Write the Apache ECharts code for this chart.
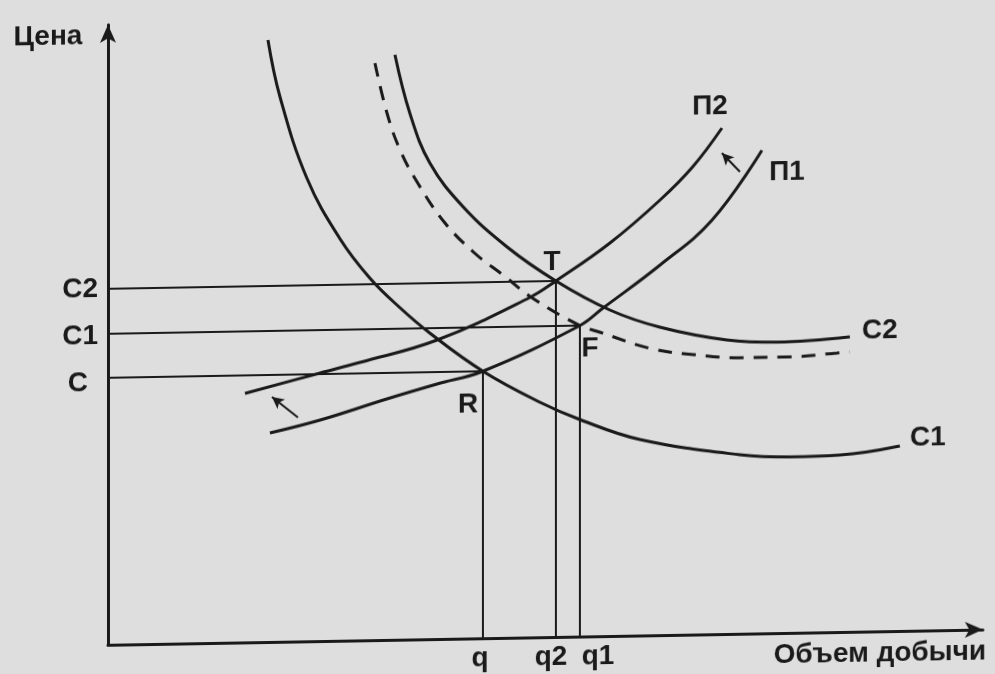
<!DOCTYPE html>
<html>
<head>
<meta charset="utf-8">
<title>Цена и объем добычи</title>
<script src="https://cdn.jsdelivr.net/npm/echarts@6/dist/echarts.min.js"></script>
<style>
  html, body { margin: 0; padding: 0; background: #dedede; overflow: hidden; }
  /* the scanned figure is slightly sheared: its right side sits higher */
  #main { width: 995px; height: 674px; transform: skewY(-1deg); }
</style>
</head>
<body>
<div id="main"></div>
<script type="text/javascript">
// price levels on the vertical axis: С, С1, С2
var priceNames = ['С', 'С1', 'С2'];
var priceLevels = [26.7, 31.1, 35.6];
// output levels on the horizontal axis: q, q2, q1
var qtyNames = ['q', 'q2', 'q1'];
var qtyLevels = [37.5, 44.8, 47.2];

// equilibrium points: [name, index in qtyLevels, index in priceLevels]
var eqPoints = [['R', 0, 0], ['T', 1, 2], ['F', 2, 1]];

// demand curves
var demandC1 = [[16.0, 60.2], [17.2, 54.5], [19.9, 46.3], [23.2, 40.2], [26.2, 36.2], [29.2, 33.2], [32.2, 30.6],
  [37.5, 26.7], [43.2, 23.5], [47.2, 21.7], [53.2, 19.6], [63.2, 17.9], [68.2, 17.6], [73.2, 17.7], [79.2, 18.5]];
var demandC2 = [[28.7, 58.5], [30.2, 52.6], [32.2, 47.6], [35.5, 43.2], [39.9, 39.1], [44.8, 35.6],
  [50.2, 32.6], [55.2, 30.8], [61.9, 29.4], [66.9, 29.1], [74.2, 29.5]];
var demandDashed = [[26.7, 57.7], [27.9, 52.7], [29.2, 49.0], [31.0, 45.6], [33.7, 41.6], [36.7, 38.5],
  [39.5, 36.3], [42.5, 33.9], [47.2, 31.1], [49.2, 30.4], [54.2, 28.7], [58.5, 28.0], [63.5, 27.6],
  [67.9, 27.6], [72.9, 27.9], [74.2, 28.0]];
// supply curves
var supplyP1 = [[16.2, 20.9], [21.2, 22.1], [27.9, 24.1], [32.9, 25.5], [37.5, 26.7], [47.2, 31.1],
  [49.5, 32.8], [55.2, 37.0], [60.4, 41.4], [65.4, 48.3]];
var supplyP2 = [[13.7, 24.9], [21.2, 26.8], [25.2, 27.8], [32.9, 29.9], [42.2, 34.0], [44.8, 35.6],
  [50.2, 39.3], [55.2, 43.5], [58.5, 46.8], [61.4, 50.6]];
// shift arrows: [from, to]
var arrowTop = [[63.2, 46.2], [61.4, 48.1]];
var arrowBottom = [[19.0, 22.4], [16.4, 24.5]];

var ink = '#1a1a1a';
var font = 'Liberation Sans';

var myChart = echarts.init(document.getElementById('main'));

function txt(extra) {
  return Object.assign({ fontSize: 28, fontWeight: 'bold', fontFamily: font, color: ink }, extra || {});
}

function nearest(arr, v) {
  var best = 0;
  for (var i = 1; i < arr.length; i++) {
    if (Math.abs(arr[i] - v) < Math.abs(arr[best] - v)) best = i;
  }
  return best;
}

function curve(name, pts, dashed, labelOffset) {
  var s = {
    name: name,
    type: 'line',
    data: pts,
    smooth: 0.4,
    symbol: 'none',
    silent: true,
    lineStyle: { color: ink, width: 3, type: dashed ? [14, 10] : 'solid' },
    z: 3
  };
  if (labelOffset) {
    s.markPoint = {
      symbol: 'circle',
      symbolSize: 0,
      silent: true,
      itemStyle: { color: ink, opacity: 1 },
      label: txt({ show: true, position: 'inside', formatter: name }),
      data: [{ coord: pts[pts.length - 1], label: { offset: labelOffset } }]
    };
  }
  return s;
}

// guide lines from the price axis to each point and down to the quantity axis
var guides = eqPoints.map(function (p) {
  var q = qtyLevels[p[1]], c = priceLevels[p[2]];
  return {
    type: 'line',
    data: [[0, c], [q, c], [q, 0]],
    symbol: 'none',
    silent: true,
    lineStyle: { color: ink, width: 2 },
    z: 2
  };
});

var pointOffsets = { R: [-15, 33], T: [-4, -19], F: [10, 23] };

var option = {
  backgroundColor: '#dedede',
  animation: false,
  grid: { left: 108, right: 12, top: 18, bottom: 36 },
  xAxis: {
    type: 'value',
    min: 0,
    max: 87.5,
    splitLine: { show: false },
    axisTick: { show: false },
    axisLine: {
      show: true, onZero: false,
      symbol: ['none', 'arrow'], symbolSize: [12, 18],
      lineStyle: { color: ink, width: 3 }
    },
    axisLabel: {
      customValues: qtyLevels,
      margin: 6,
      formatter: function (v) {
        var i = nearest(qtyLevels, v);
        return '{s' + i + '|' + qtyNames[i] + '}';
      },
      rich: {
        s0: txt({ padding: [0, 6, 0, 0] }),
        s1: txt({ padding: [0, 10, 0, 0] }),
        s2: txt({ padding: [0, 0, 0, 36] })
      }
    }
  },
  yAxis: {
    type: 'value',
    min: 0,
    max: 62,
    splitLine: { show: false },
    axisTick: { show: false },
    axisLine: {
      show: true, onZero: false,
      symbol: ['none', 'arrow'], symbolSize: [12, 18],
      lineStyle: { color: ink, width: 3 }
    },
    axisLabel: {
      customValues: priceLevels,
      margin: 10,
      formatter: function (v) {
        var i = nearest(priceLevels, v);
        return '{s' + i + '|' + priceNames[i] + '}';
      },
      rich: {
        s0: txt({ padding: [10, 10, 0, 0] }),
        s1: txt({ padding: [5, 0, 0, 0] }),
        s2: txt()
      }
    }
  },
  graphic: [
    { type: 'text', x: 48, y: 29, style: { text: 'Цена', font: 'bold 28px "Liberation Sans"', fill: ink, align: 'center', verticalAlign: 'middle' } },
    { type: 'text', x: 880, y: 660, style: { text: 'Объем добычи', font: 'bold 28px "Liberation Sans"', fill: ink, align: 'center', verticalAlign: 'middle' } }
  ],
  series: guides.concat([
    curve('С1', demandC1, false, [28, -8]),
    curve('С2', demandC2, false, [30, -6]),
    curve('dashed', demandDashed, true, null),
    curve('П1', supplyP1, false, [25, 22]),
    curve('П2', supplyP2, false, [-12, -22]),
    {
      name: 'points',
      type: 'scatter',
      symbolSize: 0,
      silent: true,
      itemStyle: { color: ink, opacity: 1 },
      data: eqPoints.map(function (p) {
        return {
          value: [qtyLevels[p[1]], priceLevels[p[2]]],
          label: { offset: pointOffsets[p[0]] },
          name: p[0]
        };
      }),
      label: txt({ show: true, position: 'inside', formatter: '{b}' }),
      z: 4
    },
    {
      name: 'arrows',
      type: 'line',
      data: [],
      silent: true,
      markLine: {
        silent: true,
        symbol: ['none', 'arrow'],
        symbolSize: [9, 12],
        label: { show: false },
        lineStyle: { color: ink, width: 2, type: 'solid' },
        data: [
          [{ coord: arrowTop[0] }, { coord: arrowTop[1] }],
          [{ coord: arrowBottom[0] }, { coord: arrowBottom[1] }]
        ]
      }
    }
  ])
};

myChart.setOption(option);
</script>
</body>
</html>
